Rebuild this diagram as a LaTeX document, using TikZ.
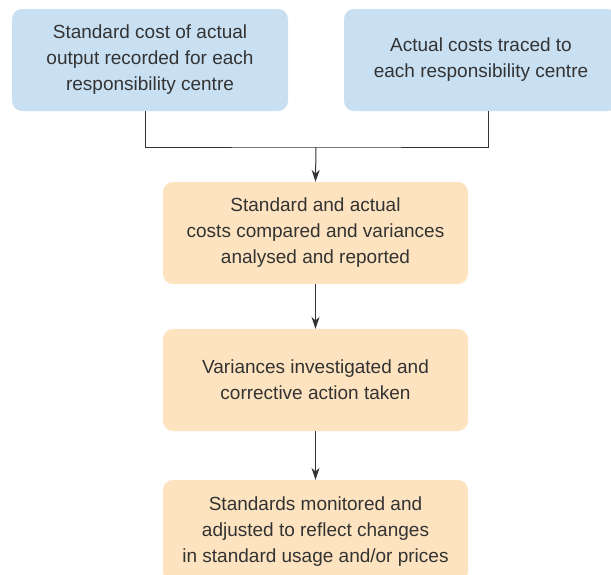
\documentclass[tikz,border=0pt]{standalone}
\usepackage{fontspec}
\setmainfont{Liberation Sans}
\usetikzlibrary{arrows.meta}
\definecolor{boxblue}{HTML}{C9E0F3}
\definecolor{boxorange}{HTML}{FDE3BF}
\definecolor{ink}{HTML}{333333}

\begin{document}
\begin{tikzpicture}[x=1pt,y=-1pt]
\tikzset{stage/.style={rounded corners=10pt,align=center,text=ink,inner sep=0pt,
  font=\fontsize{19}{26}\selectfont,minimum height=102pt}}
\tikzset{inbox/.style={stage,fill=boxblue,minimum width=276pt}}
\tikzset{outbox/.style={stage,fill=boxorange,minimum width=305pt}}
\tikzset{flow/.style={draw=ink,line width=1pt,-{Stealth[length=12pt,width=8pt]}}}

\useasboundingbox (0,0) rectangle (611,574);
\clip (0,0) rectangle (611,574);

\path (150,60) node[inbox] (std) {Standard cost of actual\\output recorded for each\\responsibility centre};
\path (481,60) node[inbox,minimum width=274pt] (act) {Actual costs traced to\\each responsibility centre};
\path (315.5,233) node[outbox] (cmp) {Standard and actual\\costs compared and variances\\analysed and reported};
\path (315.5,380) node[outbox] (inv) {Variances investigated and\\corrective action taken};
\path (315.5,531) node[outbox] (mon) {\raisebox{2pt}{\begin{tabular}{@{}c@{}}Standards monitored and\\adjusted to reflect changes\\in standard usage and/or prices\end{tabular}}};

\coordinate (join) at (316,147);

\draw[draw=ink,line width=1pt] ([xshift=-5pt]std.south) |- (join) -| ([xshift=7pt]act.south);
\draw[flow] (join) -- (cmp.north);
\draw[flow] (cmp) -- (inv);
\draw[flow] (inv) -- (mon);
\end{tikzpicture}
\end{document}
